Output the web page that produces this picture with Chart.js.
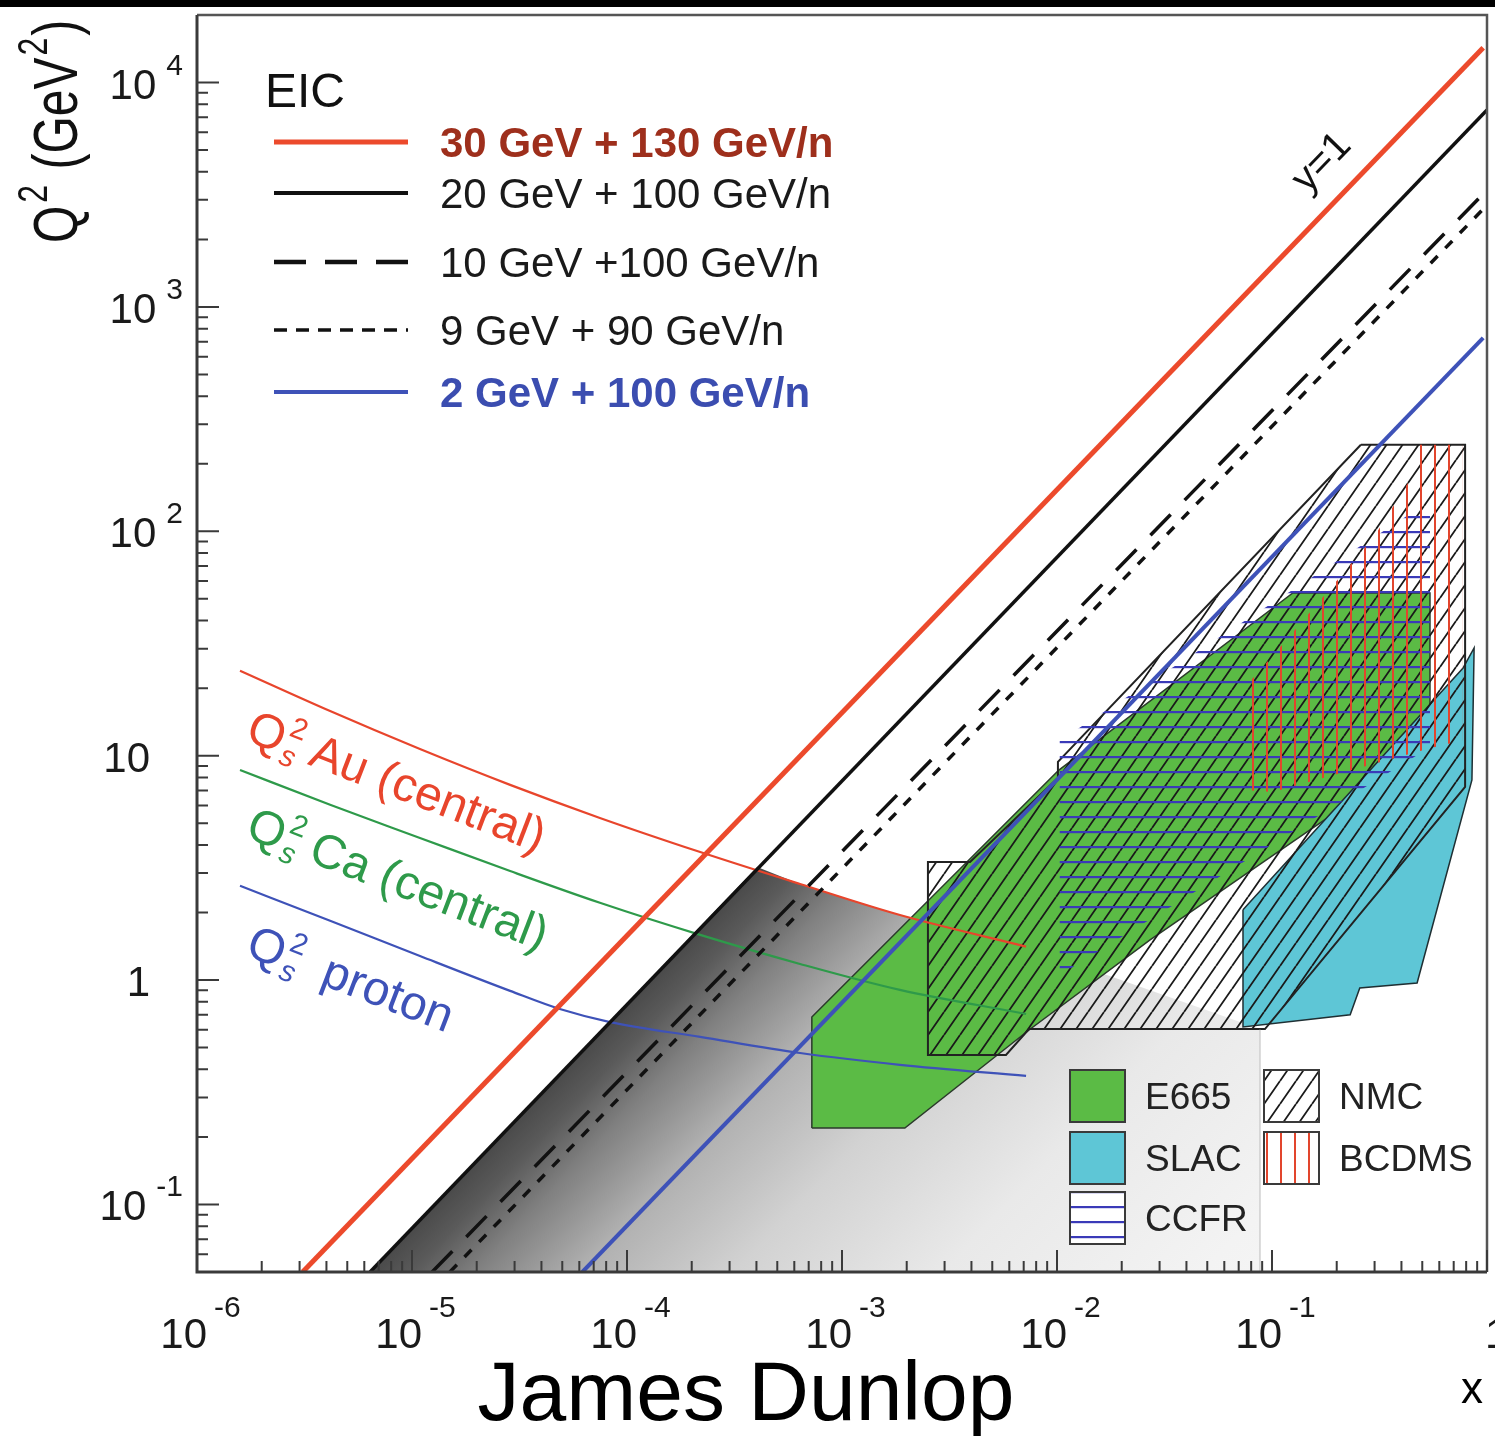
<!DOCTYPE html>
<html>
<head>
<meta charset="utf-8">
<script src="https://cdn.jsdelivr.net/npm/chart.js@4.4.1/dist/chart.umd.min.js"></script>
<style>
  html, body { margin: 0; padding: 0; background: #fff; }
</style>
</head>
<body>
<canvas id="chart" width="1495" height="1436"></canvas>
<script>
// ---- axis ticks ----
const xMajor = [1e-6, 1e-5, 1e-4, 1e-3, 1e-2, 1e-1, 1];
const xMajorLabels = [['10', '-6'], ['10', '-5'], ['10', '-4'], ['10', '-3'], ['10', '-2'], ['10', '-1'], ['1', '']];
const yMajor = [0.1, 1, 10, 100, 1000, 10000];
const yMajorLabels = [['10', '-1'], ['1', ''], ['10', ''], ['10', '2'], ['10', '3'], ['10', '4']];
const minorMantissas = [2, 3, 4, 5, 6, 7, 8, 9];

// ---- y=1 lines for the EIC beam configurations ----
const beamLabels = ['30 GeV + 130 GeV/n', '20 GeV + 100 GeV/n', '10 GeV +100 GeV/n', '9 GeV + 90 GeV/n', '2 GeV + 100 GeV/n'];
const beamX = [[3.1e-6, 0.96], [6.38e-6, 1], [1.24e-5, 1], [1.5e-5, 1], [6.2e-5, 0.96]];
const beamQ2 = [[0.05, 14300], [0.05, 7550], [0.05, 3320], [0.05, 2840], [0.05, 728]];

// ---- saturation scale curves ----
const satX = [1.585e-6, 4.16e-6, 1.089e-5, 2.86e-5, 7.48e-5, 2.19e-4, 6.38e-4, 1.86e-3, 7.18e-3];
const qsAu = [23.9, 15.8, 10.7, 7.41, 5.28, 3.72, 2.68, 1.95, 1.41];
const qsCa = [8.64, 6.04, 4.30, 3.06, 2.21, 1.59, 1.18, 0.904, 0.706];
const protonX = [1.585e-6, 4.16e-6, 1.089e-5, 2.86e-5, 4.87e-5, 8.34e-5, 2.19e-4, 6.38e-4, 1.86e-3, 7.18e-3];
const qsProton = [2.63, 1.84, 1.28, 0.895, 0.743, 0.650, 0.558, 0.473, 0.419, 0.374];

// ---- shaded region (below y=1 line of 20+100, under Qs Au) ----
const shadeX = [6.38e-6, 4.03e-4, 6.38e-4, 1.86e-3, 7.18e-3, 8.79e-2, 8.79e-2, 6.38e-6];
const shadeQ2 = [0.05, 3.19, 2.68, 1.95, 1.41, 0.605, 0.05, 0.05];

// ---- fixed target data regions ----
const e665X = [7.24e-4, 7.24e-4, 1.02e-2, 0.125, 0.543, 0.543, 2.71e-2, 7.41e-3, 1.96e-3, 7.24e-4];
const e665Q2 = [0.219, 0.685, 8.63, 53.1, 53.1, 10.9, 1.51, 0.599, 0.219, 0.219];
const slacX = [7.33e-2, 0.774, 0.871, 0.851, 0.473, 0.256, 0.231, 7.33e-2, 7.33e-2];
const slacQ2 = [2.06, 24.6, 30.2, 7.80, 0.970, 0.923, 0.700, 0.618, 2.06];
const nmcX = [0.259, 0.791, 0.791, 9.27e-2, 7.41e-3, 5.79e-3, 2.51e-3, 2.51e-3, 3.94e-3, 1.01e-2, 1.01e-2, 0.259];
const nmcQ2 = [243, 243, 7.26, 0.605, 0.605, 0.464, 0.464, 3.36, 3.36, 7.96, 9.38, 243];
const ccfrX = [1.03e-2, 1.03e-2, 0.543, 0.543, 0.468, 1.03e-2];
const ccfrQ2 = [11.7, 1.054, 10.9, 124.5, 124.5, 11.7];
const bcdmsX = [7.48e-2, 7.48e-2, 0.120, 0.184, 0.298, 0.468, 0.488, 0.766, 0.766, 0.543, 0.101, 7.48e-2];
const bcdmsQ2 = [7.03, 20.2, 33.8, 54.8, 94.4, 187.5, 243, 243, 11.7, 10.8, 6.89, 7.03];

const expNames = ['E665', 'SLAC', 'CCFR', 'NMC', 'BCDMS'];

const FONT = '"Liberation Sans", Arial, Helvetica, sans-serif';
const RED = '#ec4a2c', BLUE = '#3e52b8', GREEN = '#2e9a4a';
const E665_COL = '#5bbb45', SLAC_COL = '#5ec6d6';

const canvas = document.getElementById('chart');
const ctx = canvas.getContext('2d');

function pts(xs, ys) { return xs.map((x, i) => ({x: x, y: ys[i]})); }

function tile(w, h, draw) {
    const c = document.createElement('canvas');
    c.width = w; c.height = h;
    const g = c.getContext('2d');
    draw(g, w, h);
    return ctx.createPattern(c, 'repeat');
}

const nmcPattern = tile(16, 23, (g, w, h) => {
    g.strokeStyle = '#1a1a1a'; g.lineWidth = 1.8;
    g.beginPath();
    for (const o of [-w, 0, w]) { g.moveTo(o, h); g.lineTo(o + w, 0); }
    g.stroke();
});
const ccfrPattern = tile(10, 15, (g) => {
    g.fillStyle = '#3a3ab8'; g.fillRect(0, 6, 10, 2.2);
});
const bcdmsPattern = tile(14, 10, (g) => {
    g.fillStyle = '#e2452d'; g.fillRect(6, 0, 2, 10);
});

function shadeGradient(c) {
    const chart = c.chart;
    if (!chart.chartArea) return 'rgba(0,0,0,0)';
    const sx = chart.scales.x, sy = chart.scales.y;
    const x0 = sx.getPixelForValue(beamX[1][0]), y0 = sy.getPixelForValue(beamQ2[1][0]);
    const x1 = sx.getPixelForValue(beamX[1][1]), y1 = sy.getPixelForValue(beamQ2[1][1]);
    const L = Math.hypot(x1 - x0, y1 - y0);
    const nx = -(y1 - y0) / L, ny = (x1 - x0) / L;
    const g = chart.ctx.createLinearGradient(x0, y0, x0 + nx * 750, y0 + ny * 750);
    g.addColorStop(0, '#4a4a4a');
    g.addColorStop(0.04, '#5a5a5a');
    g.addColorStop(0.1, '#808080');
    g.addColorStop(0.2, '#b0b0b0');
    g.addColorStop(0.35, '#d2d2d2');
    g.addColorStop(0.55, '#e9e9e9');
    g.addColorStop(0.8, '#f3f3f3');
    g.addColorStop(1, '#f7f7f7');
    return g;
}

function region(data, bg, border, bw, order) {
    return {
        data: data, showLine: true, fill: 'shape', backgroundColor: bg,
        borderColor: border, borderWidth: bw, pointRadius: 0, order: order
    };
}

function curve(data, color, order) {
    return {
        data: data, showLine: true, borderColor: color, borderWidth: 2.2, pointRadius: 0,
        cubicInterpolationMode: 'monotone', order: order
    };
}

const datasets = [
    region(pts(shadeX, shadeQ2), shadeGradient, 'rgba(0,0,0,0)', 1, 30),
    region(pts(e665X, e665Q2), E665_COL, '#2b3a2b', 1.5, 29),
    region(pts(slacX, slacQ2), SLAC_COL, '#1f2f33', 1.5, 28),
    region(pts(nmcX, nmcQ2), nmcPattern, '#222222', 2, 27),
    region(pts(ccfrX, ccfrQ2), ccfrPattern, 'rgba(0,0,0,0)', 1, 26),
    region(pts(bcdmsX, bcdmsQ2), bcdmsPattern, 'rgba(0,0,0,0)', 1, 25),
    curve(pts(satX, qsCa), GREEN, 14),
    curve(pts(protonX, qsProton), BLUE, 13),
    curve(pts(satX, qsAu), '#e8452c', 12)
];

const beamColors = [RED, '#111111', '#111111', '#111111', BLUE];
const beamDash = [[], [], [29, 20], [10, 11], []];
const beamWidth = [5, 3.5, 3.5, 3.5, 4];
beamLabels.forEach((name, i) => {
    datasets.push({
        label: name, data: pts(beamX[i], beamQ2[i]), showLine: true,
        borderColor: beamColors[i], borderWidth: beamWidth[i], borderDash: beamDash[i],
        pointRadius: 0, order: 6 - i
    });
});

function setFont(c, size, weight, style) {
    c.font = (style || 'normal') + ' ' + (weight || 'normal') + ' ' + size + 'px ' + FONT;
}

function qsLabel(c, rest, color, x, y, deg, size) {
    c.save();
    c.translate(x, y);
    c.rotate(deg * Math.PI / 180);
    c.fillStyle = color;
    c.textAlign = 'left'; c.textBaseline = 'alphabetic';
    setFont(c, size);
    c.fillText('Q', 0, 0);
    const wq = c.measureText('Q').width;
    setFont(c, size * 0.62);
    c.fillText('2', wq + 2, -size * 0.42);
    setFont(c, size * 0.62, 'normal', 'italic');
    c.fillText('s', wq + 2, size * 0.2);
    setFont(c, size);
    c.fillText(rest, wq + size * 0.62, 0);
    c.restore();
}

const decorations = {
    id: 'decorations',
    beforeDraw(chart) {
        const c = chart.ctx;
        c.save();
        c.fillStyle = '#ffffff';
        c.fillRect(0, 0, chart.width, chart.height);
        c.fillStyle = '#000000';
        c.fillRect(0, 0, chart.width, 7);
        c.restore();
    },
    afterDatasetsDraw(chart) {
        const c = chart.ctx;
        const a = chart.chartArea;
        const sx = chart.scales.x, sy = chart.scales.y;
        c.save();

        // legend box edge
        c.strokeStyle = '#cfcfcf'; c.lineWidth = 1.5;
        c.beginPath(); c.moveTo(sx.getPixelForValue(shadeX[5]), sy.getPixelForValue(0.6)); c.lineTo(sx.getPixelForValue(shadeX[5]), a.bottom); c.stroke();

        // frame
        c.strokeStyle = '#555555'; c.lineWidth = 2.5;
        c.beginPath(); c.moveTo(a.left, a.top); c.lineTo(a.right, a.top); c.lineTo(a.right, a.bottom); c.stroke();
        c.strokeStyle = '#3a3a3a'; c.lineWidth = 3;
        c.beginPath(); c.moveTo(a.left, a.top); c.lineTo(a.left, a.bottom); c.lineTo(a.right, a.bottom); c.stroke();

        // ticks (inside the frame)
        c.strokeStyle = '#3a3a3a'; c.lineWidth = 2;
        c.beginPath();
        xMajor.forEach((v, i) => {
            const px = sx.getPixelForValue(v);
            c.moveTo(px, a.bottom); c.lineTo(px, a.bottom - 22);
            if (i < xMajor.length - 1) minorMantissas.forEach(m => {
                const p = sx.getPixelForValue(m * v);
                c.moveTo(p, a.bottom); c.lineTo(p, a.bottom - 11);
            });
        });
        [0.01].concat(yMajor).forEach(v => {
            const py = sy.getPixelForValue(v);
            if (py >= a.top && py <= a.bottom) { c.moveTo(a.left, py); c.lineTo(a.left + 22, py); }
            minorMantissas.forEach(m => {
                const p = sy.getPixelForValue(m * v);
                if (p > a.top && p < a.bottom) { c.moveTo(a.left, p); c.lineTo(a.left + 11, p); }
            });
        });
        c.stroke();

        // tick labels
        c.fillStyle = '#1a1a1a'; c.textBaseline = 'alphabetic';
        xMajor.forEach((v, i) => {
            const px = sx.getPixelForValue(v);
            const [b, e] = xMajorLabels[i];
            setFont(c, 42);
            if (e) {
                c.textAlign = 'right'; c.fillText(b, px + 10, 1348);
                setFont(c, 30); c.textAlign = 'left'; c.fillText(e, px + 17, 1317);
            } else {
                c.textAlign = 'left'; c.fillText(b, px - 2, 1348);
            }
        });
        yMajor.forEach((v, i) => {
            const py = sy.getPixelForValue(v);
            const [b, e] = yMajorLabels[i];
            setFont(c, 42);
            if (e) {
                setFont(c, 30); const we = c.measureText(e).width;
                c.textAlign = 'left'; c.fillText(e, 183 - we, py - 8);
                setFont(c, 42); c.textAlign = 'right'; c.fillText(b, 183 - we - 10, py + 16);
            } else {
                c.textAlign = 'right'; c.fillText(b, 150, py + 16);
            }
        });

        // axis titles
        c.textAlign = 'center';
        setFont(c, 84); c.fillStyle = '#000';
        c.fillText('James Dunlop', 746, 1420);
        setFont(c, 44); c.fillText('x', 1472, 1403);

        c.save();
        c.translate(77, 243); c.rotate(-Math.PI / 2); c.scale(1, 1.3);
        c.textAlign = 'left'; c.fillStyle = '#111';
        let xo = 0;
        setFont(c, 48); c.fillText('Q', xo, 0); xo += c.measureText('Q').width + 3;
        setFont(c, 32); c.fillText('2', xo, -23); xo += c.measureText('2').width + 2;
        setFont(c, 48); c.fillText(' (GeV', xo, 0); xo += c.measureText(' (GeV').width + 2;
        setFont(c, 32); c.fillText('2', xo, -23); xo += c.measureText('2').width + 2;
        setFont(c, 48); c.fillText(')', xo, 0);
        c.restore();

        // EIC legend
        c.textAlign = 'left';
        setFont(c, 48); c.fillStyle = '#111'; c.fillText('EIC', 265, 107);
        const legY = [142, 193, 262, 330, 392];
        const legDash = [[], [], [32, 19], [13, 9], []];
        const legW = [5, 4, 4.5, 3.5, 4];
        const legTxt = ['#9e2f1c', '#1a1a1a', '#1a1a1a', '#1a1a1a', '#3b4db0'];
        const legBold = ['bold', 'normal', 'normal', 'normal', 'bold'];
        beamLabels.forEach((name, i) => {
            c.strokeStyle = beamColors[i]; c.lineWidth = legW[i]; c.setLineDash(legDash[i]);
            c.beginPath(); c.moveTo(274, legY[i]); c.lineTo(408, legY[i]); c.stroke();
            c.setLineDash([]);
            setFont(c, 42, legBold[i]); c.fillStyle = legTxt[i];
            c.fillText(name, 440, legY[i] + 15);
        });

        // data legend (bottom right)
        const sw = [[1070, 1070], [1070, 1132], [1070, 1192], [1264, 1070], [1264, 1132]];
        const swFill = [E665_COL, SLAC_COL, ccfrPattern, nmcPattern, bcdmsPattern];
        expNames.forEach((name, i) => {
            const [x0, y0] = sw[i];
            if (i >= 2) { c.fillStyle = '#ffffff'; c.fillRect(x0, y0, 55, 52); }
            c.fillStyle = swFill[i]; c.fillRect(x0, y0, 55, 52);
            c.strokeStyle = '#3a3a3a'; c.lineWidth = 2; c.strokeRect(x0, y0, 55, 52);
            setFont(c, 37); c.fillStyle = '#222'; c.textAlign = 'left';
            c.fillText(name, x0 + 75, y0 + 39);
        });

        // curve labels
        qsLabel(c, 'Au (central)', '#e8452c', 244, 740, 21, 48);
        qsLabel(c, 'Ca (central)', GREEN, 244, 837, 21, 48);
        qsLabel(c, ' proton', BLUE, 244, 955, 21, 48);

        // y=1
        c.save();
        c.translate(1322, 163); c.rotate(-46 * Math.PI / 180);
        setFont(c, 40); c.fillStyle = '#111'; c.textAlign = 'center'; c.textBaseline = 'middle';
        c.fillText('y=1', 0, 0);
        c.restore();

        c.restore();
    }
};

new Chart(ctx, {
    type: 'scatter',
    data: {datasets: datasets},
    options: {
        responsive: false,
        devicePixelRatio: 1,
        animation: false,
        layout: {padding: {left: 197, right: 8, top: 15, bottom: 164}},
        scales: {
            x: {type: 'logarithmic', min: 1e-6, max: 1, display: false},
            y: {type: 'logarithmic', min: 0.05, max: 2e4, display: false}
        },
        elements: {line: {tension: 0, borderCapStyle: 'butt'}, point: {radius: 0}},
        plugins: {legend: {display: false}, tooltip: {enabled: false}}
    },
    plugins: [decorations]
});
</script>
</body>
</html>
